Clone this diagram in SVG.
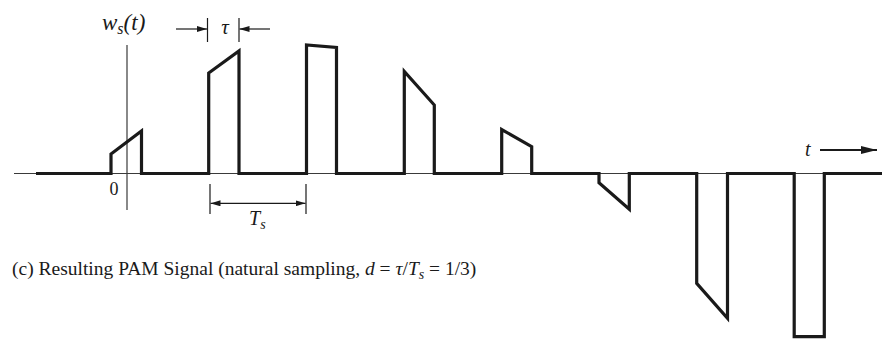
<svg xmlns="http://www.w3.org/2000/svg" width="882" height="344" viewBox="0 0 882 344">
<style>
.thin{stroke:#3a3a3a;stroke-width:1.2;fill:none}
.sig{stroke:#1a1a1a;stroke-width:3.2;fill:none;stroke-linejoin:miter;stroke-miterlimit:10}
.dim{stroke:#1a1a1a;stroke-width:1.2;fill:none}
.lbl{font-family:"Liberation Serif","Times New Roman",serif;fill:#1a1a1a}
.it{font-style:italic}
</style>
<defs>
<marker id="ah" viewBox="0 0 10 6" refX="10" refY="3" markerWidth="10" markerHeight="6" markerUnits="userSpaceOnUse" orient="auto">
<path d="M0,0 L10,3 L0,6 Z" fill="#1a1a1a"/>
</marker>
<marker id="ahb" viewBox="0 0 16 8" refX="16" refY="4" markerWidth="16" markerHeight="8" markerUnits="userSpaceOnUse" orient="auto">
<path d="M0,0 L16,4 L0,8 Z" fill="#1a1a1a"/>
</marker>
</defs>
<g id="axes">
<line class="thin" x1="14" y1="173.5" x2="882" y2="173.5"/>
<line class="thin" x1="127" y1="45" x2="127" y2="210"/>
</g>
<g id="signal">
<path class="sig" d="M36,173.5 H111 V154 L141.5,131 V173.5 H208.7 V73 L239,51 V173.5 H306.5 V45 L336.5,47.5 V173.5 H404.3 V71.5 L434.3,105 V173.5 H501.7 V129.5 L531.7,146.7 V173.5 H599 V182.7 L629.3,209.3 V173.5 H696.7 V283.3 L727.5,318.3 V173.5 H794.2 V336.7 H824.3 V173.5 H882"/>
</g>
<g id="connectors">
<line class="dim" x1="207.5" y1="18" x2="207.5" y2="42"/>
<line class="dim" x1="239" y1="18" x2="239" y2="42"/>
<line class="dim" x1="176" y1="29" x2="207" y2="29" marker-end="url(#ah)"/>
<line class="dim" x1="270" y1="29" x2="239.5" y2="29" marker-end="url(#ah)"/>
<line class="dim" x1="210" y1="184" x2="210" y2="214"/>
<line class="dim" x1="306" y1="184" x2="306" y2="214"/>
<line class="dim" x1="258" y1="203.3" x2="210.5" y2="203.3" marker-end="url(#ah)"/>
<line class="dim" x1="258" y1="203.3" x2="305.5" y2="203.3" marker-end="url(#ah)"/>
<line x1="820" y1="150" x2="877" y2="150" stroke="#1a1a1a" stroke-width="2.2" marker-end="url(#ahb)"/>
</g>
<g id="labels">
<text class="lbl it" x="102" y="30" font-size="23">w<tspan font-size="16" dy="4">s</tspan><tspan dy="-4">(t)</tspan></text>
<text class="lbl it" x="225" y="34" font-size="21" text-anchor="middle">τ</text>
<text class="lbl" x="109.5" y="195" font-size="18">0</text>
<text class="lbl it" x="249" y="225" font-size="20">T<tspan font-size="14" dy="4" font-style="italic">s</tspan></text>
<text class="lbl it" x="805" y="156" font-size="20">t</text>
<text class="lbl" x="12" y="275" font-size="19.5">(c) Resulting PAM Signal (natural sampling, <tspan font-style="italic">d</tspan> = <tspan font-style="italic">τ</tspan>/<tspan font-style="italic">T</tspan><tspan font-style="italic" font-size="14" dy="4">s</tspan><tspan dy="-4"> = 1/3)</tspan></text>
</g>
</svg>
